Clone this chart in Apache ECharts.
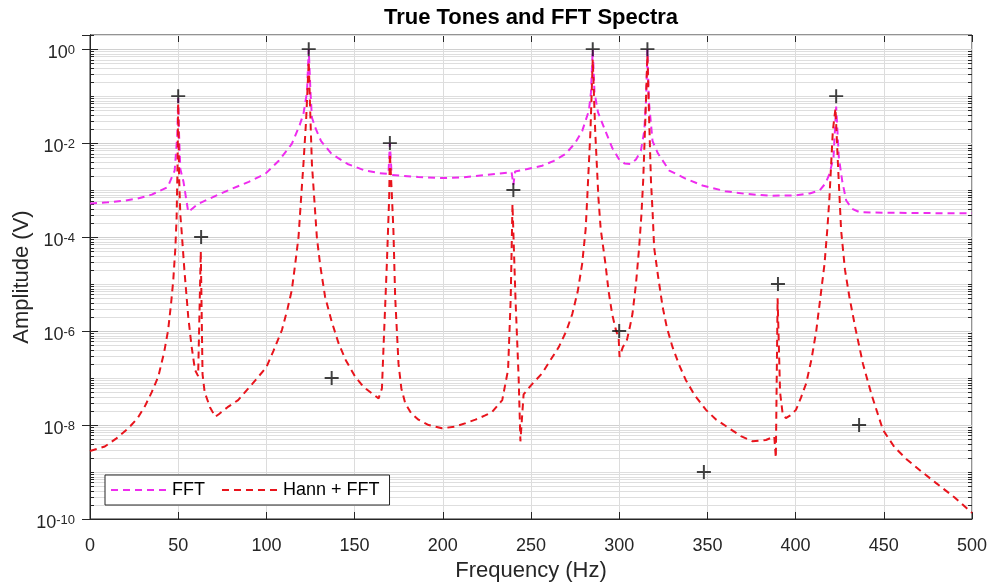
<!DOCTYPE html>
<html>
<head>
<meta charset="utf-8">
<script src="https://cdn.jsdelivr.net/npm/echarts@6/dist/echarts.min.js"></script>
<style>
html,body{margin:0;padding:0;background:#fff;}
#chart{width:990px;height:583px;}
</style>
</head>
<body>
<div id="chart"></div>
<script>
// ---- Data ----
const toneFreq = [50, 63, 124, 137, 170, 240, 285, 300, 316, 348, 390, 423, 436];
const toneAmp  = [0.1, 1e-4, 1, 1e-7, 0.01, 1e-3, 1, 1e-6, 1, 1e-9, 1e-5, 0.1, 1e-8];

const fftFreq = [0, 10, 20, 27, 35, 44, 48, 49.5, 50, 50.5, 51.2, 53, 55.7, 61.3, 70, 80, 90, 99.3, 107, 114.4, 119, 121, 123, 124, 125, 125.8, 128, 131, 137, 146, 156, 164, 169.2, 170, 171, 178, 186, 200, 210, 218.5, 230, 239, 240, 241, 248, 256.3, 263, 269.6, 275, 279, 282.8, 284, 285, 286, 288, 292.2, 296, 299.8, 303, 306.4, 309.5, 312.3, 314.2, 315.2, 316, 316.8, 318.9, 322, 328.4, 337, 347.2, 360, 371.8, 385, 400.2, 408, 413.6, 417, 419.2, 421.5, 423, 424.5, 426.5, 428.7, 432, 436.2, 450, 470, 500];
const fftAmp  = [5.2e-4, 5.5e-4, 6.0e-4, 6.6e-4, 8.0e-4, 1.15e-3, 2.6e-3, 1.5e-2, 9e-2, 1.5e-2, 2.8e-3, 1.5e-3, 3.4e-4, 5.1e-4, 7.2e-4, 1.05e-3, 1.5e-3, 2.2e-3, 4.2e-3, 9.6e-3, 2.5e-2, 4.2e-2, 0.12, 1.0, 0.12, 3.5e-2, 2.0e-2, 1.1e-2, 5.9e-3, 3.6e-3, 2.6e-3, 2.3e-3, 2.2e-3, 1.0e-2, 2.1e-3, 2.0e-3, 1.9e-3, 1.8e-3, 1.85e-3, 2.0e-3, 2.2e-3, 2.4e-3, 1.3e-3, 2.5e-3, 2.8e-3, 3.3e-3, 4.2e-3, 5.9e-3, 1.0e-2, 1.8e-2, 4.9e-2, 0.12, 1.0, 0.12, 4.5e-2, 1.8e-2, 8e-3, 4.6e-3, 3.7e-3, 3.6e-3, 4.5e-3, 6.9e-3, 1.8e-2, 0.08, 1.0, 0.08, 1.1e-2, 6e-3, 2.6e-3, 1.8e-3, 1.25e-3, 9.5e-4, 8.3e-4, 7.6e-4, 7.7e-4, 8.5e-4, 9.8e-4, 1.4e-3, 2.2e-3, 5e-3, 6e-2, 5e-3, 1.5e-3, 6e-4, 4e-4, 3.4e-4, 3.3e-4, 3.25e-4, 3.2e-4];

const hannFreq = [0, 8.4, 15, 21.7, 27, 31.1, 35, 38.7, 42, 44.3, 46, 47.2, 48.4, 49.1, 49.6, 50, 50.5, 51.2, 51.9, 53.5, 55.7, 57.5, 59.5, 61.3, 62.8, 63.8, 65, 68, 71, 73, 78, 84, 92, 100, 104, 108.8, 112, 114.4, 116.5, 118.2, 119.8, 121, 122.5, 124, 125, 125.8, 127.2, 128.6, 130.5, 133.3, 137, 140.9, 145, 150.3, 155, 159.8, 163.6, 165.5, 166.4, 168.3, 169.6, 170, 171, 172, 173, 174.9, 176.5, 178.7, 182, 186.2, 192, 199.6, 207.2, 213, 218.5, 224, 228, 233.7, 237, 238.5, 239.5, 241.2, 243, 244, 245.8, 250, 256.3, 261, 265.8, 270, 273.4, 276.5, 279, 281, 281.9, 283.7, 285, 286.4, 288.2, 289.5, 292.2, 294, 296, 298, 299.7, 300.2, 302, 304.4, 306, 307.5, 309.5, 311.3, 312.6, 313.6, 314.8, 316, 317, 318, 319, 319.8, 322, 324.6, 327, 330.2, 334, 337.8, 343, 349.2, 355, 362.4, 369, 375.6, 383.2, 387.9, 388.8, 389.8, 391.2, 392.6, 394.5, 397, 400.2, 403, 406, 409, 411.7, 414, 416.4, 418, 419.2, 421.1, 422.6, 424, 425.8, 428, 430.5, 434, 438.2, 443, 449.5, 456, 462.7, 471, 479.7, 490, 500];
const hannAmp  = [2.8e-9, 3.5e-9, 5.2e-9, 8.5e-9, 1.4e-8, 2.5e-8, 5e-8, 1.07e-7, 3.5e-7, 1.05e-6, 4e-6, 1.2e-5, 6e-5, 2.6e-4, 3e-3, 0.07, 2e-3, 3e-4, 1.4e-4, 2e-5, 2e-6, 5e-7, 1.5e-7, 1.1e-7, 5e-5, 1.2e-7, 5e-8, 2.4e-8, 1.5e-8, 1.7e-8, 2.4e-8, 3.4e-8, 7.5e-8, 1.7e-7, 3.8e-7, 1.05e-6, 3e-6, 7.4e-6, 3e-5, 1e-4, 8e-4, 3.6e-3, 3e-2, 0.55, 3e-2, 3.6e-3, 6e-4, 1e-4, 2.5e-5, 5.3e-6, 1.6e-6, 5.5e-7, 2.4e-7, 1.07e-7, 6.5e-8, 4.7e-8, 3.7e-8, 6e-8, 4.6e-7, 2.8e-5, 7e-4, 6e-3, 1e-3, 1.4e-4, 5.3e-6, 2e-7, 6e-8, 2.9e-8, 1.8e-8, 1.3e-8, 1e-8, 8.5e-9, 9.3e-9, 1.1e-8, 1.3e-8, 1.6e-8, 1.9e-8, 3.4e-8, 1.5e-7, 5e-6, 5e-4, 5e-6, 1e-7, 4.5e-9, 4.5e-8, 7e-8, 1.26e-7, 2.4e-7, 4.6e-7, 1e-6, 2.3e-6, 7e-6, 2.7e-5, 1.5e-4, 7e-4, 1.8e-2, 0.6, 1.8e-2, 7e-4, 1.5e-4, 2.7e-5, 7e-6, 2.3e-6, 1.1e-6, 7e-7, 2.8e-7, 4.5e-7, 6.5e-7, 1.2e-6, 2.3e-6, 1e-5, 6e-5, 3e-4, 1.6e-3, 3e-2, 0.75, 3e-2, 1.6e-3, 3e-4, 6e-5, 1.5e-5, 3.3e-6, 1.2e-6, 4.6e-7, 1.9e-7, 9e-8, 4.2e-8, 2.1e-8, 1.3e-8, 8.5e-9, 5.8e-9, 4.5e-9, 4.8e-9, 5.7e-9, 2e-9, 5e-6, 5e-8, 1.8e-8, 1.4e-8, 1.6e-8, 2.1e-8, 3.8e-8, 7.7e-8, 2.5e-7, 1e-6, 5e-6, 2.7e-5, 1.5e-4, 7e-4, 1.8e-2, 0.055, 3.6e-3, 1.4e-4, 2e-5, 5.3e-6, 1.1e-6, 2e-7, 4.5e-8, 7.9e-9, 3.4e-9, 1.9e-9, 1.05e-9, 5.8e-10, 2.9e-10, 1.35e-10];

const xTicks = [0, 50, 100, 150, 200, 250, 300, 350, 400, 450, 500];
const seriesNames = ['FFT', 'Hann + FFT'];
const titleText = 'True Tones and FFT Spectra';
const xName = 'Frequency (Hz)';
const yName = 'Amplitude (V)';

// ---- Build ----
const zip = (a, b) => a.map((v, i) => [v, b[i]]);
const FONT = '"Liberation Sans", Arial, Helvetica, sans-serif';
const AX = '#262626';

// minor log grid positions (2..9 x 10^k and odd decades)
const minorGrid = [];
for (let k = -10; k <= 0; k++) {
  for (let m = 1; m <= 9; m++) {
    const v = m * Math.pow(10, k);
    if (v > 2) continue;
    if (m === 1 && k % 2 === 0) continue;
    minorGrid.push([0, v]);
  }
}

const chart = echarts.init(document.getElementById('chart'), null, {renderer: 'canvas'});

const yLabel = {
  formatter: v => '{b|10}{s|' + Math.round(Math.log10(v)) + '}',
  rich: {
    b: {fontSize: 18, fontFamily: FONT, color: AX, verticalAlign: 'bottom', lineHeight: 18},
    s: {fontSize: 13, fontFamily: FONT, color: AX, verticalAlign: 'top', lineHeight: 13, padding: [0, 0, 10, 0]}
  },
  padding: [8, 0, 0, 0],
  margin: 15,
  showMaxLabel: false
};

chart.setOption({
  animation: false,
  backgroundColor: '#fff',
  textStyle: {fontFamily: FONT},
  grid: {left: 90, right: 18, top: 35, bottom: 64, containLabel: false, outerBoundsMode: 'none',
    show: true, borderColor: AX, borderWidth: 1, backgroundColor: 'transparent'},
  graphic: [{
    type: 'text', x: 531, y: 18,
    style: {text: titleText, font: 'bold 22px ' + FONT, fill: '#000', textAlign: 'center', textVerticalAlign: 'middle'}
  }],
  legend: {
    data: seriesNames,
    left: 105, top: 475,
    orient: 'horizontal',
    backgroundColor: '#fff',
    borderColor: AX, borderWidth: 1, borderRadius: 0,
    padding: [6, 10, 6, 5],
    itemWidth: 56, itemHeight: 14, itemGap: 16,
    itemStyle: {opacity: 0},
    textStyle: {fontSize: 18, color: '#000', fontFamily: FONT}
  },
  xAxis: [{
    type: 'value', min: 0, max: 500, interval: 50,
    name: xName, nameLocation: 'middle', nameGap: 41, nameMoveOverlap: false,
    nameTextStyle: {fontSize: 22, color: AX, fontFamily: FONT},
    axisLine: {show: true, lineStyle: {color: AX, width: 1}},
    axisTick: {show: true, inside: true, length: 7, lineStyle: {color: AX}},
    axisLabel: {fontSize: 18, color: AX, margin: 18, fontFamily: FONT,
      formatter: v => xTicks.includes(v) ? String(v) : ''},
    splitLine: {show: true, lineStyle: {color: '#dcdcdc', width: 1}}
  }, {
    type: 'value', min: 0, max: 500, interval: 50, position: 'top',
    axisLine: {show: true, lineStyle: {color: AX, width: 1}},
    axisTick: {show: true, inside: true, length: 7, lineStyle: {color: AX}},
    axisLabel: {show: false}, splitLine: {show: false}
  }],
  yAxis: [{
    type: 'log', logBase: 10, min: 1e-10, max: 2, interval: 2,
    name: yName, nameLocation: 'middle', nameGap: 57, nameMoveOverlap: false,
    nameTextStyle: {fontSize: 22, color: AX, fontFamily: FONT},
    axisLine: {show: true, lineStyle: {color: AX, width: 1}},
    axisTick: {show: true, inside: true, length: 8, lineStyle: {color: AX}},
    axisLabel: yLabel,
    splitLine: {show: true, lineStyle: {color: '#d0d0d0', width: 1}}
  }, {
    type: 'log', logBase: 10, min: 1e-10, max: 2, interval: 2, position: 'right',
    axisLine: {show: true, lineStyle: {color: AX, width: 1}},
    axisTick: {show: true, inside: true, length: 8, lineStyle: {color: AX}},
    axisLabel: {show: false}, splitLine: {show: false}
  }],
  series: [{
    name: 'minorGrid', type: 'custom', silent: true, z: 1,
    xAxisIndex: 0, yAxisIndex: 0,
    data: minorGrid,
    renderItem: (params, api) => {
      const p = api.coord([0, api.value(1)]);
      const cs = params.coordSys;
      const y = Math.round(p[1]) + 0.5;
      return {type: 'group', children: [
        {type: 'line', shape: {x1: cs.x, y1: y, x2: cs.x + cs.width, y2: y}, style: {stroke: '#dedede', lineWidth: 1}},
        {type: 'line', shape: {x1: cs.x, y1: y, x2: cs.x + 4, y2: y}, style: {stroke: AX, lineWidth: 1}},
        {type: 'line', shape: {x1: cs.x + cs.width - 4, y1: y, x2: cs.x + cs.width, y2: y}, style: {stroke: AX, lineWidth: 1}}
      ]};
    }
  }, {
    name: seriesNames[0], type: 'line', z: 3,
    data: zip(fftFreq, fftAmp),
    showSymbol: false, symbol: 'none', smooth: false,
    itemStyle: {color: '#ee2cee'},
    lineStyle: {color: '#ee2cee', width: 2, type: [7, 5]}
  }, {
    name: seriesNames[1], type: 'line', z: 4,
    data: zip(hannFreq, hannAmp),
    showSymbol: false, symbol: 'none', smooth: false,
    itemStyle: {color: '#e8141c'},
    lineStyle: {color: '#e8141c', width: 2, type: [7, 5]}
  }, {
    name: 'True tones', type: 'scatter', z: 5,
    data: zip(toneFreq, toneAmp),
    symbol: 'path://M0,8.6H20V11.4H0ZM8.6,0H11.4V20H8.6Z',
    symbolSize: 14,
    itemStyle: {color: '#111'}
  }]
});
</script>
</body>
</html>
